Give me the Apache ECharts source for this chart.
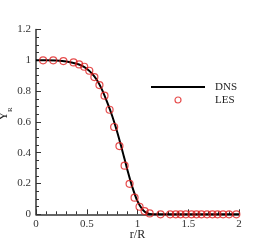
<!DOCTYPE html>
<html><head><meta charset="utf-8">
<script src="https://cdn.jsdelivr.net/npm/echarts@6/dist/echarts.min.js"></script>
<style>html,body{margin:0;padding:0;background:#fff}#c{width:272px;height:242px}</style>
</head><body><div id="c"></div>
<script>
const xTicks = [0, 0.5, 1, 1.5, 2];
const yTicks = [0, 0.2, 0.4, 0.6, 0.8, 1, 1.2];
const dnsX = [0, 0.1, 0.2, 0.3, 0.4, 0.45, 0.5, 0.55, 0.6, 0.65, 0.7, 0.75, 0.8, 0.85, 0.9, 0.95, 1.0, 1.05, 1.1, 1.15, 1.5, 2.0];
const dnsY = [1, 1, 0.998, 0.992, 0.978, 0.965, 0.945, 0.915, 0.872, 0.81, 0.73, 0.64, 0.535, 0.415, 0.29, 0.175, 0.085, 0.03, 0.005, 0, 0, 0];
const lesX = [0.07, 0.17, 0.27, 0.37, 0.425, 0.475, 0.525, 0.575, 0.625, 0.675, 0.725, 0.77, 0.822, 0.873, 0.922, 0.971, 1.02, 1.07, 1.12, 1.227, 1.322, 1.377, 1.424, 1.476, 1.532, 1.581, 1.63, 1.685, 1.738, 1.788, 1.843, 1.902, 1.974];
const lesY = [1, 1, 0.995, 0.986, 0.973, 0.958, 0.932, 0.891, 0.839, 0.77, 0.679, 0.567, 0.443, 0.316, 0.198, 0.108, 0.049, 0.021, 0.006, 0, 0, 0, 0, 0, 0, 0, 0, 0, 0, 0, 0, 0, 0];

const serif = 'Liberation Serif';
const axisCol = '#333';
const chart = echarts.init(document.getElementById('c'), null, {renderer: 'canvas'});
chart.setOption({
  animation: false,
  grid: {left: 36, right: 33, top: 29.5, bottom: 27.7, containLabel: false, outerBoundsMode: 'none'},
  legend: {
    orient: 'vertical', left: 146, top: 76.5, itemWidth: 54, itemHeight: 6, itemGap: 2,
    symbolKeepAspect: true,
    textStyle: {fontFamily: serif, fontSize: 11, color: '#222', padding: [0, 0, 0, 5]},
    data: [
      {name: 'DNS', icon: 'path://M0,0L54,0L54,2L0,2Z', itemStyle: {color: '#000'}},
      {name: 'LES', itemStyle: {color: 'none', borderColor: '#e02020', borderWidth: 1.2}}
    ]
  },
  xAxis: {
    type: 'value', min: xTicks[0], max: xTicks[xTicks.length - 1], interval: 0.5,
    name: 'r/R', nameLocation: 'middle', nameGap: 15, nameMoveOverlap: false,
    nameTextStyle: {fontFamily: serif, fontSize: 12, color: '#222'},
    axisLine: {lineStyle: {color: axisCol, width: 1.5}},
    axisTick: {inside: true, length: 5, lineStyle: {color: axisCol, width: 1}},
    minorTick: {show: true, splitNumber: 5, length: 3, lineStyle: {color: axisCol, width: 1}},
    splitLine: {show: false},
    axisLabel: {fontFamily: serif, fontSize: 11, color: '#333', margin: 4,
      formatter: v => { const t = xTicks.find(k => Math.abs(k - v) < 1e-9); return t === undefined ? '' : String(t); }}
  },
  yAxis: {
    type: 'value', min: yTicks[0], max: yTicks[yTicks.length - 1], interval: 0.2,
    name: '{a|Y}{b|R}', nameLocation: 'middle', nameGap: 26, nameRotate: 90, nameMoveOverlap: false,
    nameTextStyle: {padding: [0, 0, 0, 16], rich: {
      a: {fontFamily: serif, fontSize: 12, color: '#222'},
      b: {fontFamily: serif, fontSize: 7, color: '#222', verticalAlign: 'bottom', padding: [0, 0, -4, 0]}
    }},
    axisLine: {show: true, lineStyle: {color: axisCol, width: 1.5}},
    axisTick: {show: true, inside: true, length: 5, lineStyle: {color: axisCol, width: 1}},
    minorTick: {show: true, splitNumber: 4, length: 3, lineStyle: {color: axisCol, width: 1}},
    splitLine: {show: false},
    axisLabel: {fontFamily: serif, fontSize: 11, color: '#333', margin: 5,
      formatter: v => { const t = yTicks.find(k => Math.abs(k - v) < 1e-9); return t === undefined ? '' : String(t); }}
  },
  series: [
    {name: 'DNS', type: 'line', data: dnsX.map((x, i) => [x, dnsY[i]]), symbol: 'none', showSymbol: false, smooth: 0.3,
     lineStyle: {color: '#000', width: 2}, itemStyle: {color: '#000'}, z: 2},
    {name: 'LES', type: 'scatter', data: lesX.map((x, i) => [x, lesY[i]]), symbol: 'circle', symbolSize: 7,
     itemStyle: {color: 'none', borderColor: '#e02020', borderWidth: 1.2}, z: 3}
  ]
});
</script></body></html>
